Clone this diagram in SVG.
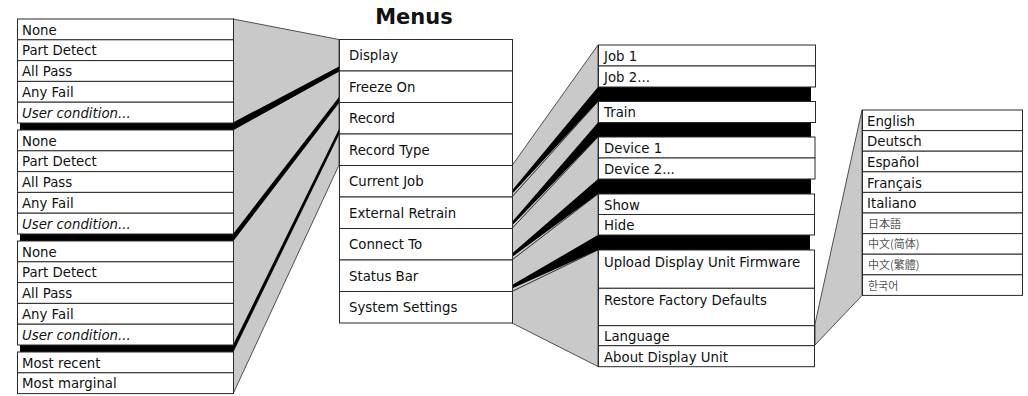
<svg xmlns="http://www.w3.org/2000/svg" width="1028" height="396" viewBox="0 0 1028 396">
  <style>
    .bg { fill: #ffffff; }
    .item { fill: #ffffff; stroke: #2a2a2a; stroke-width: 1; }
    .fan { fill: #c9c9c9; stroke: #2a2a2a; stroke-width: 0.8; stroke-linejoin: round; }
    .band { fill: #000000; }
    .t { font-family: "DejaVu Sans", Verdana, sans-serif; font-size: 13.3px; fill: #111111; }
    .ti { font-style: italic; }
    .cjk { font-size: 11px; fill: #555555; }
    .title { font-family: "DejaVu Sans", Verdana, sans-serif; font-size: 21px; font-weight: bold; fill: #111111; }
  </style>
  <rect class="bg" x="0" y="0" width="1028" height="396"/>

  <text class="title" x="414" y="23.5" text-anchor="middle">Menus</text>

  <!-- fans linking a menu item to its sub-menu, with their dark shadow bands -->
  <g id="connectors">
    <polygon class="fan" points="233,19 339,39.5 339,71 233,130"/>
    <polygon class="fan" points="233,130 339,71 339,102.5 233,241"/>
    <polygon class="fan" points="233,241 339,102.5 339,134 233,352"/>
    <polygon class="fan" points="233,352 339,134 339,165 233,394"/>
    <polygon class="band" points="233,122.5 339,66.5 339,71.5 233,130"/>
    <polygon class="band" points="233,234 339,97 339,102.5 233,241"/>
    <polygon class="band" points="233,345 339,129 339,134 233,352"/>

    <polygon class="fan" points="512,165.5 598,45 598,101.5 512,197"/>
    <polygon class="fan" points="512,197 598,101.5 598,137 512,228.5"/>
    <polygon class="fan" points="512,228.5 598,137 598,194 512,260"/>
    <polygon class="fan" points="512,260 598,194 598,250 512,291.5"/>
    <polygon class="fan" points="512,291.5 598,250 598,366.5 512,323"/>
    <polygon class="band" points="512,190.5 598,87 598,101.5 512,194"/>
    <polygon class="band" points="512,222 598,122.5 598,137 512,225.5"/>
    <polygon class="band" points="512,253.5 598,179 598,194 512,257"/>
    <polygon class="band" points="512,285 598,235 598,250 512,288.5"/>

    <polygon class="fan" points="815,324 862,110 862,295.5 815,345"/>

    <!-- shadow bars under the sub-menus -->
    <rect class="band" x="20" y="123" width="213" height="7"/>
    <rect class="band" x="20" y="234" width="213" height="7"/>
    <rect class="band" x="20" y="345" width="213" height="7"/>
    <rect class="band" x="598" y="87" width="213" height="14.5"/>
    <rect class="band" x="598" y="122.5" width="213" height="14.5"/>
    <rect class="band" x="598" y="179" width="213" height="15"/>
    <rect class="band" x="598" y="235" width="212" height="15"/>
  </g>

  <!-- main menu -->
  <g id="main-display"><rect class="item" x="339.5" y="39.5" width="173" height="31.5"/><text class="t" x="349" y="60">Display</text></g>
  <g id="main-freeze"><rect class="item" x="339.5" y="71" width="173" height="31.5"/><text class="t" x="349" y="91.5">Freeze On</text></g>
  <g id="main-record"><rect class="item" x="339.5" y="102.5" width="173" height="31.5"/><text class="t" x="349" y="123">Record</text></g>
  <g id="main-record-type"><rect class="item" x="339.5" y="134" width="173" height="31.5"/><text class="t" x="349" y="154.5">Record Type</text></g>
  <g id="main-current-job"><rect class="item" x="339.5" y="165.5" width="173" height="31.5"/><text class="t" x="349" y="186">Current Job</text></g>
  <g id="main-external-retrain"><rect class="item" x="339.5" y="197" width="173" height="31.5"/><text class="t" x="349" y="217.5">External Retrain</text></g>
  <g id="main-connect-to"><rect class="item" x="339.5" y="228.5" width="173" height="31.5"/><text class="t" x="349" y="249">Connect To</text></g>
  <g id="main-status-bar"><rect class="item" x="339.5" y="260" width="173" height="31.5"/><text class="t" x="349" y="280.5">Status Bar</text></g>
  <g id="main-system-settings"><rect class="item" x="339.5" y="291.5" width="173" height="31.5"/><text class="t" x="349" y="312">System Settings</text></g>

  <!-- Display options -->
  <g id="display-none"><rect class="item" x="17.5" y="19" width="216" height="20.8"/><text class="t" x="22" y="34.5">None</text></g>
  <g id="display-part-detect"><rect class="item" x="17.5" y="39.8" width="216" height="20.8"/><text class="t" x="22" y="55.3">Part Detect</text></g>
  <g id="display-all-pass"><rect class="item" x="17.5" y="60.6" width="216" height="20.8"/><text class="t" x="22" y="76.1">All Pass</text></g>
  <g id="display-any-fail"><rect class="item" x="17.5" y="81.4" width="216" height="20.8"/><text class="t" x="22" y="96.9">Any Fail</text></g>
  <g id="display-user"><rect class="item" x="17.5" y="102.2" width="216" height="20.8"/><text class="t ti" x="22" y="117.7">User condition...</text></g>

  <!-- Freeze On options -->
  <g id="freeze-none"><rect class="item" x="17.5" y="130" width="216" height="20.8"/><text class="t" x="22" y="145.5">None</text></g>
  <g id="freeze-part-detect"><rect class="item" x="17.5" y="150.8" width="216" height="20.8"/><text class="t" x="22" y="166.3">Part Detect</text></g>
  <g id="freeze-all-pass"><rect class="item" x="17.5" y="171.6" width="216" height="20.8"/><text class="t" x="22" y="187.1">All Pass</text></g>
  <g id="freeze-any-fail"><rect class="item" x="17.5" y="192.4" width="216" height="20.8"/><text class="t" x="22" y="207.9">Any Fail</text></g>
  <g id="freeze-user"><rect class="item" x="17.5" y="213.2" width="216" height="20.8"/><text class="t ti" x="22" y="228.7">User condition...</text></g>

  <!-- Record options -->
  <g id="record-none"><rect class="item" x="17.5" y="241" width="216" height="20.8"/><text class="t" x="22" y="256.5">None</text></g>
  <g id="record-part-detect"><rect class="item" x="17.5" y="261.8" width="216" height="20.8"/><text class="t" x="22" y="277.3">Part Detect</text></g>
  <g id="record-all-pass"><rect class="item" x="17.5" y="282.6" width="216" height="20.8"/><text class="t" x="22" y="298.1">All Pass</text></g>
  <g id="record-any-fail"><rect class="item" x="17.5" y="303.4" width="216" height="20.8"/><text class="t" x="22" y="318.9">Any Fail</text></g>
  <g id="record-user"><rect class="item" x="17.5" y="324.2" width="216" height="20.8"/><text class="t ti" x="22" y="339.7">User condition...</text></g>

  <!-- Record Type options -->
  <g id="type-most-recent"><rect class="item" x="17.5" y="352" width="216" height="20.8"/><text class="t" x="22" y="367.5">Most recent</text></g>
  <g id="type-most-marginal"><rect class="item" x="17.5" y="372.8" width="216" height="20.8"/><text class="t" x="22" y="388.3">Most marginal</text></g>

  <!-- Current Job -->
  <g id="job-1"><rect class="item" x="598.5" y="45" width="217" height="21"/><text class="t" x="604" y="60.5">Job 1</text></g>
  <g id="job-2"><rect class="item" x="598.5" y="66" width="217" height="21"/><text class="t" x="604" y="81.5">Job 2...</text></g>

  <!-- External Retrain -->
  <g id="retrain-train"><rect class="item" x="598.5" y="101.5" width="217" height="21"/><text class="t" x="604" y="117">Train</text></g>

  <!-- Connect To -->
  <g id="device-1"><rect class="item" x="598.5" y="137" width="216.5" height="21"/><text class="t" x="604" y="152.5">Device 1</text></g>
  <g id="device-2"><rect class="item" x="598.5" y="158" width="216.5" height="21"/><text class="t" x="604" y="173.5">Device 2...</text></g>

  <!-- Status Bar -->
  <g id="status-show"><rect class="item" x="598.5" y="194" width="216" height="20.5"/><text class="t" x="604" y="209.5">Show</text></g>
  <g id="status-hide"><rect class="item" x="598.5" y="214.5" width="216" height="20.5"/><text class="t" x="604" y="230">Hide</text></g>

  <!-- System Settings -->
  <g id="sys-upload"><rect class="item" x="598.5" y="250" width="216" height="38.3"/><text class="t" x="604" y="267">Upload Display Unit Firmware</text></g>
  <g id="sys-restore"><rect class="item" x="598.5" y="288.3" width="216" height="37.4"/><text class="t" x="604" y="304.5">Restore Factory Defaults</text></g>
  <g id="sys-language"><rect class="item" x="598.5" y="325.7" width="216" height="20"/><text class="t" x="604" y="340.5">Language</text></g>
  <g id="sys-about"><rect class="item" x="598.5" y="345.7" width="216" height="21"/><text class="t" x="604" y="361.5">About Display Unit</text></g>

  <!-- Language options -->
  <g id="lang-en"><rect class="item" x="862.5" y="110" width="160" height="20.6"/><text class="t" x="867" y="125.8">English</text></g>
  <g id="lang-de"><rect class="item" x="862.5" y="130.6" width="160" height="20.6"/><text class="t" x="867" y="146.4">Deutsch</text></g>
  <g id="lang-es"><rect class="item" x="862.5" y="151.2" width="160" height="20.6"/><text class="t" x="867" y="167">Español</text></g>
  <g id="lang-fr"><rect class="item" x="862.5" y="171.8" width="160" height="20.6"/><text class="t" x="867" y="187.6">Français</text></g>
  <g id="lang-it"><rect class="item" x="862.5" y="192.4" width="160" height="20.6"/><text class="t" x="867" y="208.2">Italiano</text></g>
  <g id="lang-ja"><rect class="item" x="862.5" y="213" width="160" height="20.6"/><text class="t cjk" x="868" y="227.8" style="font-family: 'Noto Sans CJK JP', sans-serif">日本語</text></g>
  <g id="lang-zh-hans"><rect class="item" x="862.5" y="233.6" width="160" height="20.6"/><text class="t cjk" x="868" y="248.4" style="font-family: 'Noto Sans CJK SC', sans-serif">中文(简体)</text></g>
  <g id="lang-zh-hant"><rect class="item" x="862.5" y="254.2" width="160" height="20.6"/><text class="t cjk" x="868" y="269" style="font-family: 'Noto Sans CJK TC', sans-serif">中文(繁體)</text></g>
  <g id="lang-ko"><rect class="item" x="862.5" y="274.8" width="160" height="20.6"/><text class="t cjk" x="868" y="289.6" style="font-family: 'Noto Sans CJK KR', sans-serif">한국어</text></g>
</svg>
